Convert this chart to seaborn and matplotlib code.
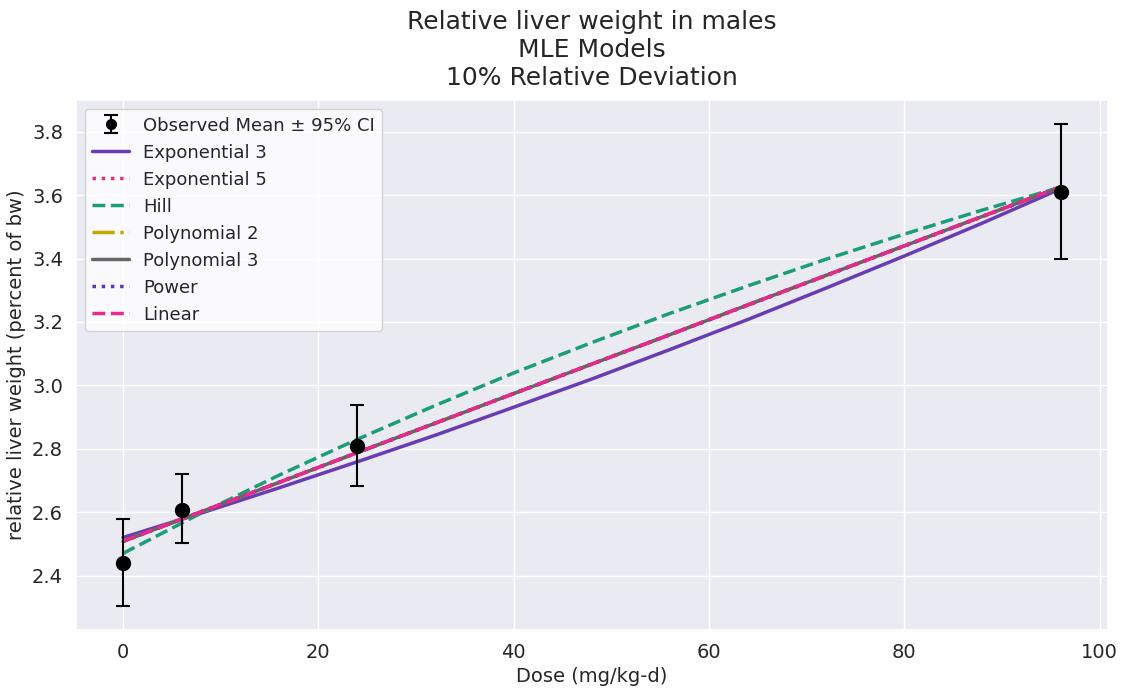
import numpy as np
import pandas as pd
import matplotlib
matplotlib.use("Agg")
import matplotlib.pyplot as plt
import seaborn as sns

# Observed data
obs_dose = [0, 6, 24, 96]
obs_mean = [2.441, 2.608, 2.810, 3.611]
obs_lower = [2.305, 2.504, 2.684, 3.397]
obs_upper = [2.577, 2.719, 2.939, 3.823]

# Model curves at these doses
curve_dose = [0, 8, 16, 24, 32, 40, 48, 56, 64, 72, 80, 88, 96]
exp3 = [2.520, 2.597, 2.677, 2.759, 2.843, 2.931, 3.020, 3.113, 3.208, 3.307, 3.408, 3.512, 3.620]
exp5 = [2.509, 2.602, 2.695, 2.788, 2.881, 2.974, 3.067, 3.160, 3.253, 3.346, 3.439, 3.532, 3.625]
hill = [2.470, 2.597, 2.717, 2.830, 2.937, 3.039, 3.135, 3.227, 3.314, 3.398, 3.477, 3.553, 3.625]
poly2 = [2.508, 2.601, 2.694, 2.788, 2.881, 2.974, 3.067, 3.160, 3.254, 3.347, 3.440, 3.533, 3.626]
poly3 = [2.508, 2.601, 2.694, 2.788, 2.881, 2.974, 3.067, 3.160, 3.254, 3.347, 3.440, 3.533, 3.626]
power = [2.508, 2.601, 2.694, 2.788, 2.881, 2.974, 3.067, 3.160, 3.254, 3.347, 3.440, 3.533, 3.626]
linear = [2.508, 2.601, 2.694, 2.788, 2.881, 2.974, 3.067, 3.160, 3.254, 3.347, 3.440, 3.533, 3.626]

model_names = ["Exponential 3", "Exponential 5", "Hill", "Polynomial 2",
               "Polynomial 3", "Power", "Linear"]
model_values = [exp3, exp5, hill, poly2, poly3, power, linear]
model_colors = ["#6a3cb4", "#eb2a8c", "#1b9e77", "#bfaa00", "#666666", "#5b32b8", "#e8298a"]
model_styles = ["-", ":", "--", "-.", "-", ":", "--"]

sns.set_theme(style="darkgrid")
plt.rcParams['font.family'] = ['DejaVu Sans']

fig, ax = plt.subplots(figsize=(11.21, 6.92), dpi=100)
fig.subplots_adjust(left=0.068, right=0.988, top=0.855, bottom=0.09)

mean = np.array(obs_mean)
yerr = np.vstack([mean - np.array(obs_lower), np.array(obs_upper) - mean])
ax.errorbar(obs_dose, obs_mean, yerr=yerr, fmt="o", color="black", ecolor="black",
            markersize=10, capsize=5, elinewidth=1.5, capthick=1.5,
            label="Observed Mean \u00b1 95% CI", zorder=5)

for name, vals, col, ls in zip(model_names, model_values, model_colors, model_styles):
    df = pd.DataFrame({"dose": curve_dose, "resp": vals})
    sns.lineplot(data=df, x="dose", y="resp", ax=ax, color=col, linestyle=ls,
                 linewidth=2.5, label=name, legend=False)

ax.set_title("Relative liver weight in males\nMLE Models\n10% Relative Deviation",
             fontsize=18, color="#262626", pad=11)
ax.set_xlabel("Dose (mg/kg-d)", fontsize=14)
ax.set_ylabel("relative liver weight (percent of bw)", fontsize=14)
ax.tick_params(labelsize=14)
ax.set_xticks([0, 20, 40, 60, 80, 100])
ax.set_yticks([2.4, 2.6, 2.8, 3.0, 3.2, 3.4, 3.6, 3.8])

handles, labels = ax.get_legend_handles_labels()
order = [labels.index("Observed Mean \u00b1 95% CI")] + [labels.index(n) for n in model_names]
ax.legend([handles[i] for i in order], [labels[i] for i in order],
          loc="upper left", fontsize=13, frameon=True, facecolor="white",
          framealpha=0.8, markerscale=0.7)

fig.savefig("out.png", dpi=100)
